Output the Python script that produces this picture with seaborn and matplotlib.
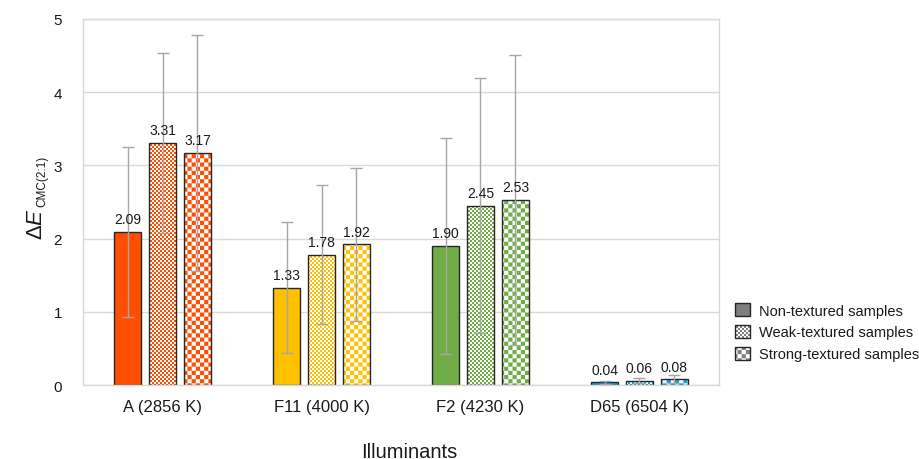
import warnings

import numpy as np
import pandas as pd
import matplotlib
matplotlib.use("Agg")
import matplotlib.pyplot as plt
from matplotlib import hatch as mhatch
from matplotlib.path import Path
from matplotlib.patches import Patch, Rectangle
from matplotlib.legend_handler import HandlerTuple
import seaborn as sns

warnings.filterwarnings("ignore", category=matplotlib.MatplotlibDeprecationWarning)

# ---- data -------------------------------------------------------------
illuminants = ["A (2856 K)", "F11 (4000 K)", "F2 (4230 K)", "D65 (6504 K)"]
textures = ["Non-textured samples", "Weak-textured samples", "Strong-textured samples"]

mean_non = [2.09, 1.33, 1.90, 0.04]
mean_weak = [3.31, 1.78, 2.45, 0.06]
mean_strong = [3.17, 1.92, 2.53, 0.08]

sd_non = [1.16, 0.89, 1.47, 0.02]
sd_weak = [1.23, 0.95, 1.74, 0.03]
sd_strong = [1.61, 1.04, 1.98, 0.05]

illuminant_colors = ["#FF4E00", "#FFC000", "#70AD47", "#14A2DE"]
y_ticks = [0, 1, 2, 3, 4, 5]


# ---- checkerboard hatches ('k' = fine, 'c' = coarse) -----------------
class CheckerHatch(mhatch.HatchPatternBase):
    def __init__(self, hatch, density):
        if "k" in hatch:
            self.cells = 50
        elif "c" in hatch:
            self.cells = 24
        else:
            self.cells = 0
        self.num_vertices = (self.cells * self.cells // 2) * 5

    def set_vertices_and_codes(self, vertices, codes):
        n = self.cells
        step = 1.0 / n
        square = np.array([[0, 0], [1, 0], [1, 1], [0, 1], [0, 0]], float) * step
        square_codes = [Path.MOVETO, Path.LINETO, Path.LINETO, Path.LINETO, Path.CLOSEPOLY]
        k = 0
        for i in range(n):
            for j in range(n):
                if (i + j) % 2 == 0:
                    vertices[k * 5:(k + 1) * 5] = square + [i * step, j * step]
                    codes[k * 5:(k + 1) * 5] = square_codes
                    k += 1


mhatch._hatch_types.append(CheckerHatch)
texture_hatch = [None, "k", "c"]

# ---- style ------------------------------------------------------------
sns.set_theme(style="white")
plt.rcParams["font.family"] = ["Liberation Sans", "DejaVu Sans"]
plt.rcParams["mathtext.fontset"] = "custom"
plt.rcParams["mathtext.rm"] = "Liberation Sans"
plt.rcParams["mathtext.it"] = "Liberation Sans:italic"
plt.rcParams["hatch.linewidth"] = 0.0

TEXT = "#1a1a1a"
EDGE = "#262626"
GRID = "#d9d9d9"

df = pd.DataFrame({
    "Illuminant": illuminants * 3,
    "Texture": np.repeat(textures, len(illuminants)),
    "dE": mean_non + mean_weak + mean_strong,
    "sd": sd_non + sd_weak + sd_strong,
})

W, H = 920, 460
fig, ax = plt.subplots(figsize=(W / 100, H / 100), dpi=100)
fig.subplots_adjust(left=83 / W, right=719 / W, bottom=1 - 386 / H, top=1 - 20 / H)

sns.barplot(data=df, x="Illuminant", y="dE", hue="Texture",
            order=illuminants, hue_order=textures,
            width=0.66, gap=0.23, errorbar=None, legend=False, ax=ax)

xs, ys, errs = [], [], []
for h, container in enumerate(ax.containers):
    sub = df[df["Texture"] == textures[h]].set_index("Illuminant").loc[illuminants]
    for i, bar in enumerate(container):
        color = illuminant_colors[i]
        if texture_hatch[h] is None:
            bar.set_facecolor(color)
            bar.set_edgecolor(color)
        else:
            bar.set_facecolor("white")
            bar.set_edgecolor(color)
            bar.set_hatch(texture_hatch[h])
        bar.set_linewidth(0)
        x0, w, hgt = bar.get_x(), bar.get_width(), bar.get_height()
        ax.add_patch(Rectangle((x0, 0), w, hgt, fill=False, ec=EDGE, lw=1.0, zorder=2.5))
        cx = x0 + w / 2
        xs.append(cx)
        ys.append(hgt)
        errs.append(sub["sd"].iloc[i])
        ax.annotate(f"{sub['dE'].iloc[i]:.2f}", (cx, hgt), xytext=(0, 4),
                    textcoords="offset points", ha="center", va="bottom",
                    fontsize=10, color=TEXT, zorder=5)

ax.errorbar(xs, ys, yerr=errs, fmt="none", ecolor="#a6a6a6", elinewidth=1,
            capsize=4, capthick=1, zorder=4)

# ---- axes -------------------------------------------------------------
ax.set_ylim(0, 5)
ax.set_xlim(-0.5, len(illuminants) - 0.5)
ax.set_yticks(y_ticks)
ax.set_axisbelow(True)
ax.yaxis.grid(True, color=GRID, lw=1)
ax.xaxis.grid(False)
for sp in ax.spines.values():
    sp.set_visible(True)
    sp.set_color(GRID)
    sp.set_linewidth(1)
ax.tick_params(axis="y", length=0, pad=15, labelsize=11, labelcolor=TEXT)
ax.tick_params(axis="x", length=0, pad=10, labelsize=12, labelcolor=TEXT)

ax.set_xlabel("Illuminants", fontsize=14.5, color=TEXT)
ax.xaxis.label.set_va("center")
ax.xaxis.set_label_coords((409 - 83) / 636, (386 - 452) / 366)
ax.set_ylabel("")

# y-axis title: large "ΔE" with a small, low-set "CMC(2:1)" subscript
main = fig.text(37 / W, 1 - 224 / H, r"$\Delta E$", rotation=90,
                ha="center", va="center", fontsize=16, color=TEXT)
renderer = fig.canvas.get_renderer()
bb = main.get_window_extent(renderer)
fig.text((bb.x1 + 1) / W, (bb.y1 + 1) / H, "CMC(2:1)", rotation=90,
         ha="right", va="bottom", fontsize=8.5, color=TEXT)

# ---- legend -----------------------------------------------------------
legend_gray = "#7f7f7f"
handles = []
for hp in texture_hatch:
    if hp is None:
        base = Patch(facecolor=legend_gray, edgecolor=legend_gray, lw=0)
    else:
        base = Patch(facecolor="white", edgecolor=legend_gray, hatch=hp, lw=0)
    handles.append((base, Patch(fill=False, edgecolor=EDGE, lw=1.0)))

fig.legend(handles, textures, handler_map={tuple: HandlerTuple(ndivide=1)},
           loc="upper left", bbox_to_anchor=(735 / W, 1 - 304 / H),
           frameon=False, fontsize=10.5, handlelength=1.0, handleheight=1.0,
           handletextpad=0.65, labelspacing=0.5, borderpad=0, borderaxespad=0,
           labelcolor=TEXT)

fig.savefig("out.png", dpi=100)
